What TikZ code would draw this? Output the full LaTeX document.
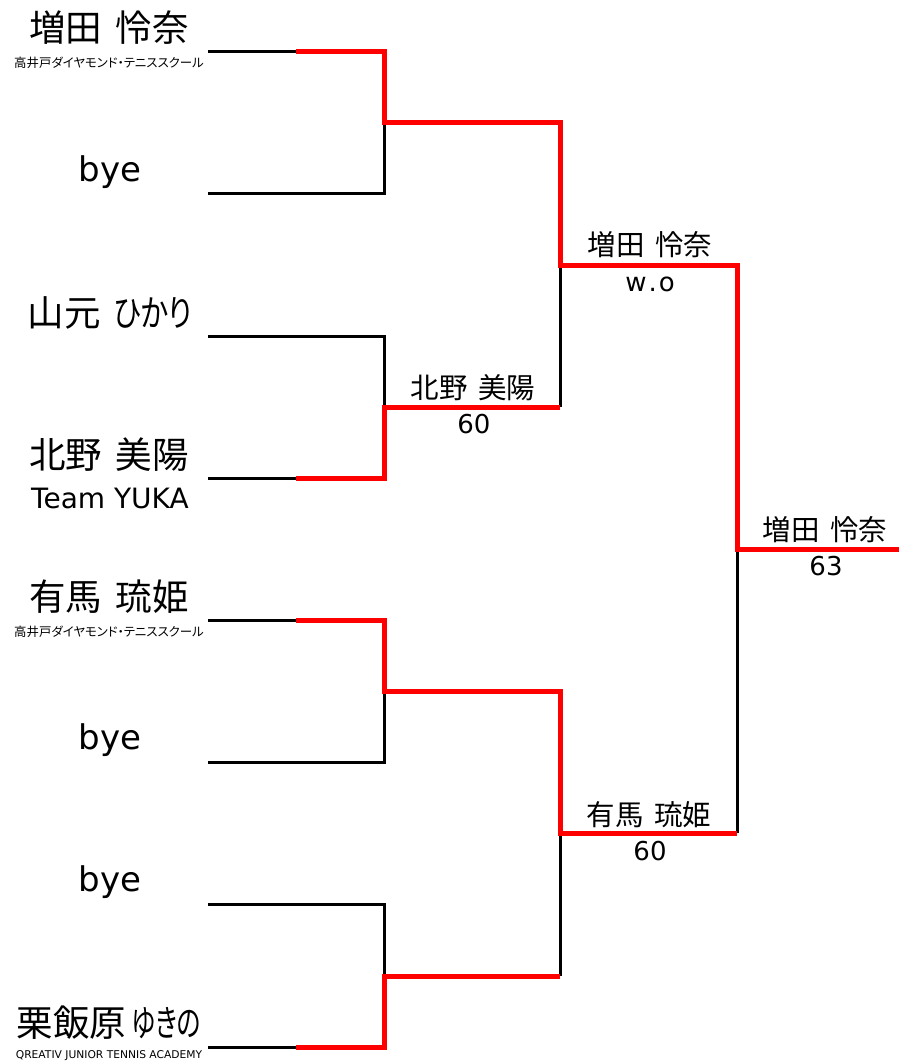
\documentclass[tikz,border=0pt]{standalone}
\usepackage{fontspec}
\usepackage{graphicx}
\setmainfont{DejaVu Sans}
\newfontfamily\jp[RawFeature=+palt,WordSpace=1.6]{Noto Sans CJK JP}
\newcommand{\narrowkana}[2][0.78]{\scalebox{#1}[1]{#2}}
\begin{document}
\begin{tikzpicture}[x=1pt,y=-1pt,
  lose/.style={draw=black, line width=3pt},
  win/.style={draw=red, line width=5pt},
  pname/.style={inner sep=0pt, font=\jp\fontsize{36.5}{36.5}\selectfont},
  latin/.style={inner sep=0pt, font=\fontsize{34}{34}\selectfont},
  club/.style={inner sep=0pt, font=\jp\fontsize{12.4}{12.4}\selectfont},
  clublat/.style={inner sep=0pt, font=\fontsize{10.7}{10.7}\selectfont},
  team/.style={inner sep=0pt, font=\fontsize{28}{28}\selectfont},
  wname/.style={inner sep=0pt, font=\jp\fontsize{28.5}{28.5}\selectfont},
  wscore/.style={inner sep=0pt, font=\fontsize{26}{26}\selectfont}]
\useasboundingbox (0,0) rectangle (899,1061);
% player names
\node[pname] (p1) at (109,28) {増田 怜奈};
\node[club] (c1) at (109,63) {高井戸ダイヤモンド・テニススクール};
\node[latin] (p2) at (110,172) {bye};
\node[pname] (p3) at (110,313) {山元 \narrowkana{ひかり}};
\node[pname] (p4) at (109,455) {北野 美陽};
\node[team] (c4) at (110,498) {Team YUKA};
\node[pname] (p5) at (109,597) {有馬 琉姫};
\node[club] (c5) at (109,632) {高井戸ダイヤモンド・テニススクール};
\node[latin] (p6) at (110,740) {bye};
\node[latin] (p7) at (110,882) {bye};
\node[pname] (p8) at (109,1023) {栗飯原\hspace{5pt}\narrowkana[0.68]{ゆきの}};
\node[clublat] (c8) at (109,1056) {QREATIV JUNIOR TENNIS ACADEMY};
% winner labels
\node[wname] (w1) at (473,388) {北野 美陽};
\node[wscore] (s1l) at (474,424) {60};
\node[wname] (w2) at (650,245) {増田 怜奈};
\node[wscore] (s2l) at (650,284) {w\kern2pt.\kern2pt o};
\node[wname] (w3) at (649,815) {有馬 琉姫};
\node[wscore] (s3l) at (650,851) {60};
\node[wname] (w4) at (825,530) {増田 怜奈};
\node[wscore] (s4l) at (826,566) {63};
% coordinates
\foreach \i/\y in {1/51,2/193,3/336,4/478,5/620,6/762,7/904,8/1047}{
  \coordinate (s\i) at (208,\y);
  \coordinate (m\i) at (296,\y);
  \coordinate (e\i) at (384,\y);
}
\coordinate (j1) at (384,122);
\coordinate (j2) at (384,407);
\coordinate (j3) at (384,691);
\coordinate (j4) at (384,976);
\coordinate (k1) at (560,122);
\coordinate (k2) at (560,407);
\coordinate (k3) at (560,691);
\coordinate (k4) at (560,976);
\coordinate (q1) at (560,265);
\coordinate (q2) at (560,833);
\coordinate (r1) at (737,265);
\coordinate (r2) at (737,833);
\coordinate (f) at (737,549);
\coordinate (champ) at (899,549);
% black lines
\draw[lose] (s1) -- (m1);
\draw[lose] (s4) -- (m4);
\draw[lose] (s5) -- (m5);
\draw[lose] (s8) -- (m8);
\draw[lose] (s2) -- (e2) -- (j1);
\draw[lose] (s3) -- (e3) -- (j2);
\draw[lose] (s6) -- (e6) -- (j3);
\draw[lose] (s7) -- (e7) -- (j4);
\draw[lose] (q1) -- (k2);
\draw[lose] (q2) -- (k4);
\draw[lose] (f) -- (r2);
% red winner paths
\draw[win] (m1) -- (e1) -- (j1) -- (k1) -- (q1) -- (r1) -- (f) -- (champ);
\draw[win] (m4) -- (e4) -- (j2) -- (k2);
\draw[win] (m5) -- (e5) -- (j3) -- (k3) -- (q2) -- (r2);
\draw[win] (m8) -- (e8) -- (j4) -- (k4);
\end{tikzpicture}
\end{document}
